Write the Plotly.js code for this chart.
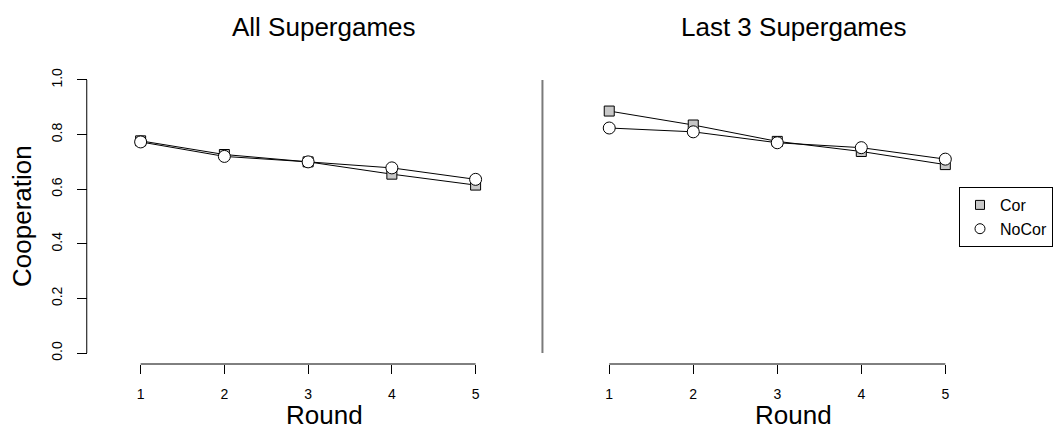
<!DOCTYPE html>
<html>
<head>
<meta charset="utf-8">
<script src="https://cdn.plot.ly/plotly-3.0.1.min.js"></script>
<style>
  html, body { margin: 0; padding: 0; background: #ffffff; }
  #chart { width: 1053px; height: 430px; }
</style>
</head>
<body>
<div id="chart"></div>
<script>
// ---- data ----
const rounds = [1, 2, 3, 4, 5];
const allCor   = [0.777, 0.727, 0.700, 0.655, 0.615];
const allNoCor = [0.773, 0.720, 0.700, 0.678, 0.636];
const lastCor   = [0.886, 0.835, 0.775, 0.738, 0.690];
const lastNoCor = [0.824, 0.810, 0.770, 0.752, 0.710];
const seriesNames = ['Cor', 'NoCor'];
const panelTitles = ['All Supergames', 'Last 3 Supergames'];
const xTitle = 'Round';
const yTitle = 'Cooperation';
const yTicks = [0, 0.2, 0.4, 0.6, 0.8, 1.0];
const yTickLabels = ['0.0', '0.2', '0.4', '0.6', '0.8', '1.0'];

// ---- layout helpers ----
const W = 1053, H = 430;
const FONT = 'Liberation Sans, Arial, Helvetica, sans-serif';
const px = v => v / W;
const py = v => (H - v) / H;
const yDom = [py(364), py(69)];

const corStyle = {
  mode: 'lines+markers',
  line: { color: '#000000', width: 1 },
  marker: { symbol: 'square', size: 10, color: '#c8c8c8', line: { color: '#000000', width: 1 } },
  cliponaxis: false
};
const noCorStyle = {
  mode: 'lines+markers',
  line: { color: '#000000', width: 1 },
  marker: { symbol: 'circle', size: 12, color: '#ffffff', line: { color: '#000000', width: 1 } },
  cliponaxis: false
};

const traces = [
  Object.assign({ x: rounds, y: allCor, xaxis: 'x', yaxis: 'y', name: seriesNames[0], showlegend: false }, corStyle),
  Object.assign({ x: rounds, y: allNoCor, xaxis: 'x', yaxis: 'y', name: seriesNames[1], showlegend: false }, noCorStyle),
  Object.assign({ x: rounds, y: lastCor, xaxis: 'x2', yaxis: 'y2', name: seriesNames[0], showlegend: false }, corStyle),
  Object.assign({ x: rounds, y: lastNoCor, xaxis: 'x2', yaxis: 'y2', name: seriesNames[1], showlegend: false }, noCorStyle),
  // legend entries
  { x: [null], y: [null], xaxis: 'x2', yaxis: 'y2', mode: 'markers', name: seriesNames[0],
    marker: { symbol: 'square', size: 9, color: '#c8c8c8', line: { color: '#000000', width: 1 } } },
  { x: [null], y: [null], xaxis: 'x2', yaxis: 'y2', mode: 'markers', name: seriesNames[1],
    marker: { symbol: 'circle', size: 10, color: '#ffffff', line: { color: '#000000', width: 1 } } }
];

const xAxisCommon = {
  range: [0.84, 5.16],
  tickmode: 'array',
  tickvals: rounds,
  ticktext: rounds.map(String),
  ticks: 'outside',
  ticklen: 9,
  tickwidth: 1,
  tickcolor: '#000000',
  showline: false,
  showgrid: false,
  zeroline: false,
  tickfont: { family: FONT, size: 14, color: '#000000' },
  ticklabelstandoff: 8,
  fixedrange: true
};
const yAxisCommon = {
  range: [-0.04, 1.04],
  domain: yDom,
  showgrid: false,
  zeroline: false,
  showline: false,
  fixedrange: true
};

const titleFont = { family: FONT, size: 26, color: '#000000' };

const layout = {
  width: W,
  height: H,
  margin: { l: 0, r: 0, t: 0, b: 0, pad: 0 },
  paper_bgcolor: '#ffffff',
  plot_bgcolor: 'rgba(0,0,0,0)',
  font: { family: FONT, color: '#000000' },
  showlegend: true,
  legend: {
    x: px(962), y: py(187), xanchor: 'left', yanchor: 'top',
    bordercolor: '#000000', borderwidth: 1, bgcolor: '#ffffff',
    font: { family: FONT, size: 16, color: '#000000' },
    tracegroupgap: 0,
    itemwidth: 30
  },
  xaxis: Object.assign({}, xAxisCommon, { domain: [px(127.6), px(490.4)], anchor: 'y' }),
  xaxis2: Object.assign({}, xAxisCommon, { domain: [px(597.5), px(961.5)], anchor: 'y2' }),
  yaxis: Object.assign({}, yAxisCommon, {
    anchor: 'free', position: px(87),
    tickmode: 'array', tickvals: yTicks, ticktext: yTickLabels,
    ticks: 'outside', ticklen: 10, tickwidth: 1, tickcolor: '#000000',
    tickangle: -90,
    tickfont: { family: FONT, size: 14, color: '#000000' },
    ticklabelstandoff: 9
  }),
  yaxis2: Object.assign({}, yAxisCommon, { anchor: 'x2', showticklabels: false, ticks: '' }),
  shapes: [
    { type: 'line', xref: 'x', yref: 'paper', x0: rounds[0], x1: rounds[rounds.length - 1], y0: yDom[0], y1: yDom[0], line: { color: '#000000', width: 1 } },
    { type: 'line', xref: 'x2', yref: 'paper', x0: rounds[0], x1: rounds[rounds.length - 1], y0: yDom[0], y1: yDom[0], line: { color: '#000000', width: 1 } },
    { type: 'line', xref: 'paper', yref: 'y', x0: px(87), x1: px(87), y0: yTicks[0], y1: yTicks[yTicks.length - 1], line: { color: '#000000', width: 1 } },
    { type: 'line', xref: 'paper', yref: 'y', x0: px(544), x1: px(544), y0: yTicks[0], y1: yTicks[yTicks.length - 1], line: { color: '#7a7a7a', width: 2 } }
  ],
  annotations: [
    { text: panelTitles[0], xref: 'paper', yref: 'paper', x: px(325), y: py(27), xanchor: 'center', yanchor: 'middle', showarrow: false, font: titleFont },
    { text: panelTitles[1], xref: 'paper', yref: 'paper', x: px(796), y: py(27), xanchor: 'center', yanchor: 'middle', showarrow: false, font: titleFont },
    { text: xTitle, xref: 'paper', yref: 'paper', x: px(325), y: py(415), xanchor: 'center', yanchor: 'middle', showarrow: false, font: titleFont },
    { text: xTitle, xref: 'paper', yref: 'paper', x: px(796), y: py(415), xanchor: 'center', yanchor: 'middle', showarrow: false, font: titleFont },
    { text: yTitle, xref: 'paper', yref: 'paper', x: px(22), y: py(216), xanchor: 'center', yanchor: 'middle', textangle: -90, showarrow: false, font: titleFont }
  ]
};

Plotly.newPlot('chart', traces, layout, { displayModeBar: false, staticPlot: true });
</script>
</body>
</html>
